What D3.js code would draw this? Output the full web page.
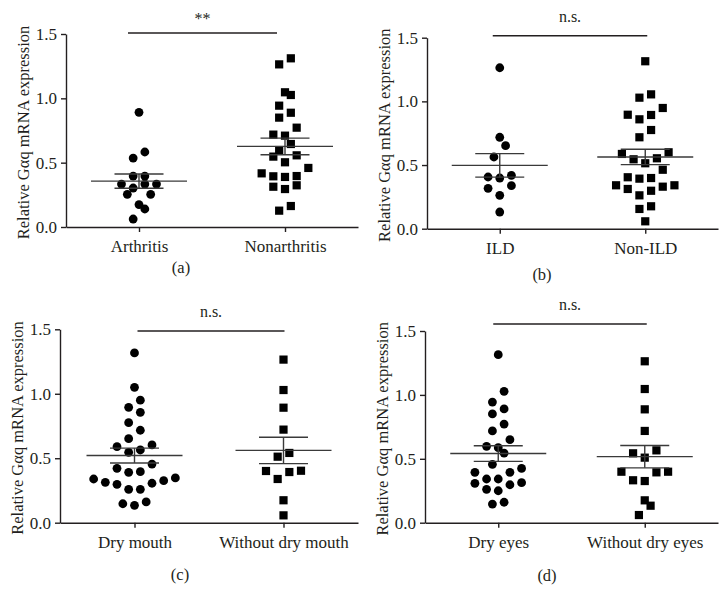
<!DOCTYPE html>
<html>
<head>
<meta charset="utf-8">
<script src="https://cdn.jsdelivr.net/npm/d3@7/dist/d3.min.js"></script>
<style>
  body { margin: 0; background: #fff; }
  text { font-family: "Liberation Serif", "DejaVu Serif", serif; fill: #231f20; }
</style>
</head>
<body>
<svg id="chart" width="727" height="607"></svg>
<script>
// values (relative Gaq mRNA expression)
var yTicks = [0, 0.5, 1.0, 1.5];
var panelLetters = ["(a)", "(b)", "(c)", "(d)"];
var sigLabels = ["**", "n.s.", "n.s.", "n.s."];

var catsA = ["Arthritis", "Nonarthritis"];
var arthritis = [0.891, 0.583, 0.536, 0.396, 0.396, 0.334, 0.303, 0.334, 0.334, 0.254, 0.254, 0.174, 0.140, 0.062];
var nonarthritis = [1.311, 1.264, 1.047, 1.026, 0.943, 0.888, 0.850, 0.772, 0.718, 0.710, 0.645, 0.598, 0.547,
  0.557, 0.503, 0.459, 0.417, 0.394, 0.389, 0.396, 0.313, 0.295, 0.324, 0.163, 0.127];

var catsB = ["ILD", "Non-ILD"];
var ild = [1.264, 0.718, 0.652, 0.563, 0.419, 0.398, 0.406, 0.317, 0.338, 0.262, 0.131];
var nonIld = [1.315, 1.055, 1.029, 0.948, 0.893, 0.895, 0.859, 0.775, 0.718, 0.600, 0.587, 0.553, 0.545, 0.514,
  0.463, 0.398, 0.393, 0.404, 0.341, 0.312, 0.298, 0.330, 0.341, 0.262, 0.176, 0.155, 0.058];

var catsC = ["Dry mouth", "Without dry mouth"];
var dryMouth = [1.317, 1.050, 0.950, 0.895, 0.856, 0.776, 0.717, 0.652, 0.603, 0.590, 0.564, 0.546, 0.455, 0.422,
  0.391, 0.396, 0.347, 0.326, 0.306, 0.259, 0.259, 0.298, 0.313, 0.339, 0.161, 0.135, 0.147];
var withoutDryMouth = [1.265, 1.029, 0.892, 0.722, 0.541, 0.512, 0.401, 0.339, 0.393, 0.403, 0.174, 0.057];

var catsD = ["Dry eyes", "Without dry eyes"];
var dryEyes = [1.315, 1.028, 0.944, 0.890, 0.851, 0.772, 0.718, 0.650, 0.587, 0.598, 0.545, 0.457, 0.425, 0.394,
  0.394, 0.342, 0.308, 0.261, 0.250, 0.297, 0.313, 0.342, 0.146, 0.160];
var withoutDryEyes = [1.263, 1.046, 0.887, 0.718, 0.543, 0.566, 0.509, 0.399, 0.394, 0.399, 0.326, 0.332, 0.175, 0.133, 0.060];

// panel placement on the page
var panels = [
  { cats: catsA, groups: [arthritis, nonarthritis], left: 66, top: 34, w: 292, h: 193, letterX: 181, letterY: 273, sigY: 33, sigDx: [-11, -8] },
  { cats: catsB, groups: [ild, nonIld], left: 427, top: 37.7, w: 291, h: 191, letterX: 542, letterY: 280, sigY: 35.7, sigDx: [-7, 2] },
  { cats: catsC, groups: [dryMouth, withoutDryMouth], left: 60, top: 329.3, w: 298, h: 193.4, letterX: 180, letterY: 580, sigY: 331, sigDx: [3, 1] },
  { cats: catsD, groups: [dryEyes, withoutDryEyes], left: 425, top: 331, w: 293, h: 191.7, letterX: 547, letterY: 581, sigY: 324, sigDx: [-5, 2] }
];

var pitch = 11.67, dotR = 4.4, sq = 8.2;
var ink = "#231f20";

// prism-like scatter: bin by value, centre each bin's points side by side
function swarm(values, y, step) {
  var idx = d3.range(values.length).sort(function(a, b) { return values[a] - values[b]; });
  var off = new Array(values.length);
  var i = 0;
  while (i < idx.length) {
    var start = y(values[idx[i]]);
    var bin = [];
    while (i < idx.length && start - y(values[idx[i]]) <= step + 0.01) { bin.push(idx[i]); i++; }
    var n = bin.length;
    var slots = d3.range(n).map(function(k) { return k - (n - 1) / 2; })
      .sort(function(a, b) { return Math.abs(a) - Math.abs(b) || a - b; });
    bin.forEach(function(j, k) { off[j] = slots[k] * step; });
  }
  return off;
}

var svg = d3.select("#chart");

panels.forEach(function(p, pi) {
  var x = d3.scalePoint().domain(p.cats).range([p.left, p.left + p.w]).padding(0.5);
  var y = d3.scaleLinear().domain([0, 1.5]).range([p.top + p.h, p.top]);
  var g = svg.append("g");

  var yAxis = g.append("g")
    .attr("transform", "translate(" + p.left + ",0)")
    .call(d3.axisLeft(y).tickValues(yTicks).tickFormat(d3.format(".1f")).tickSize(5).tickSizeOuter(0).tickPadding(4));
  var xAxis = g.append("g")
    .attr("transform", "translate(0," + (p.top + p.h) + ")")
    .call(d3.axisBottom(x).tickSize(5).tickSizeOuter(0).tickPadding(8));
  [yAxis, xAxis].forEach(function(a) {
    a.selectAll("path, line").attr("stroke", ink).attr("stroke-width", 1.4);
    a.selectAll("text").attr("font-family", null).attr("fill", ink);
  });
  yAxis.selectAll("text").attr("font-size", 17);
  xAxis.selectAll("text").attr("font-size", 17);

  g.append("text")
    .attr("transform", "translate(" + (p.left - 37) + "," + (p.top + p.h / 2 + 2) + ") rotate(-90)")
    .attr("text-anchor", "middle")
    .attr("font-size", 16.5)
    .text("Relative G\u03b1q mRNA expression");

  p.groups.forEach(function(vals, gi) {
    var cx = x(p.cats[gi]);
    var off = swarm(vals, y, pitch);
    var pts = vals.map(function(v, i) { return { v: v, dx: off[i] }; });
    if (gi === 0) {
      g.selectAll(null).data(pts).enter().append("circle")
        .attr("cx", function(d) { return cx + d.dx; })
        .attr("cy", function(d) { return y(d.v); })
        .attr("r", dotR)
        .attr("fill", "#000");
    } else {
      g.selectAll(null).data(pts).enter().append("rect")
        .attr("x", function(d) { return cx + d.dx - sq / 2; })
        .attr("y", function(d) { return y(d.v) - sq / 2; })
        .attr("width", sq).attr("height", sq)
        .attr("fill", "#000");
    }

    var m = d3.mean(vals);
    var sem = d3.deviation(vals) / Math.sqrt(vals.length);
    var lc = "#3a3a3a";
    g.append("line").attr("x1", cx - 48).attr("x2", cx + 48).attr("y1", y(m)).attr("y2", y(m))
      .attr("stroke", lc).attr("stroke-width", 1.4);
    [m - sem, m + sem].forEach(function(v) {
      g.append("line").attr("x1", cx - 24.5).attr("x2", cx + 24.5).attr("y1", y(v)).attr("y2", y(v))
        .attr("stroke", lc).attr("stroke-width", 1.4);
    });
    g.append("line").attr("x1", cx).attr("x2", cx).attr("y1", y(m - sem)).attr("y2", y(m + sem))
      .attr("stroke", lc).attr("stroke-width", 1.4);
  });

  var sx1 = x(p.cats[0]) + p.sigDx[0], sx2 = x(p.cats[1]) + p.sigDx[1];
  g.append("line").attr("x1", sx1).attr("x2", sx2).attr("y1", p.sigY).attr("y2", p.sigY)
    .attr("stroke", ink).attr("stroke-width", 1.4);
  g.append("text")
    .attr("x", (sx1 + sx2) / 2)
    .attr("y", p.sigY - (sigLabels[pi] === "**" ? 9 : 14))
    .attr("text-anchor", "middle")
    .attr("font-size", 16)
    .text(sigLabels[pi]);

  g.append("text")
    .attr("x", p.letterX).attr("y", p.letterY)
    .attr("text-anchor", "middle")
    .attr("font-size", 16.5)
    .text(panelLetters[pi]);
});
</script>
</body>
</html>
